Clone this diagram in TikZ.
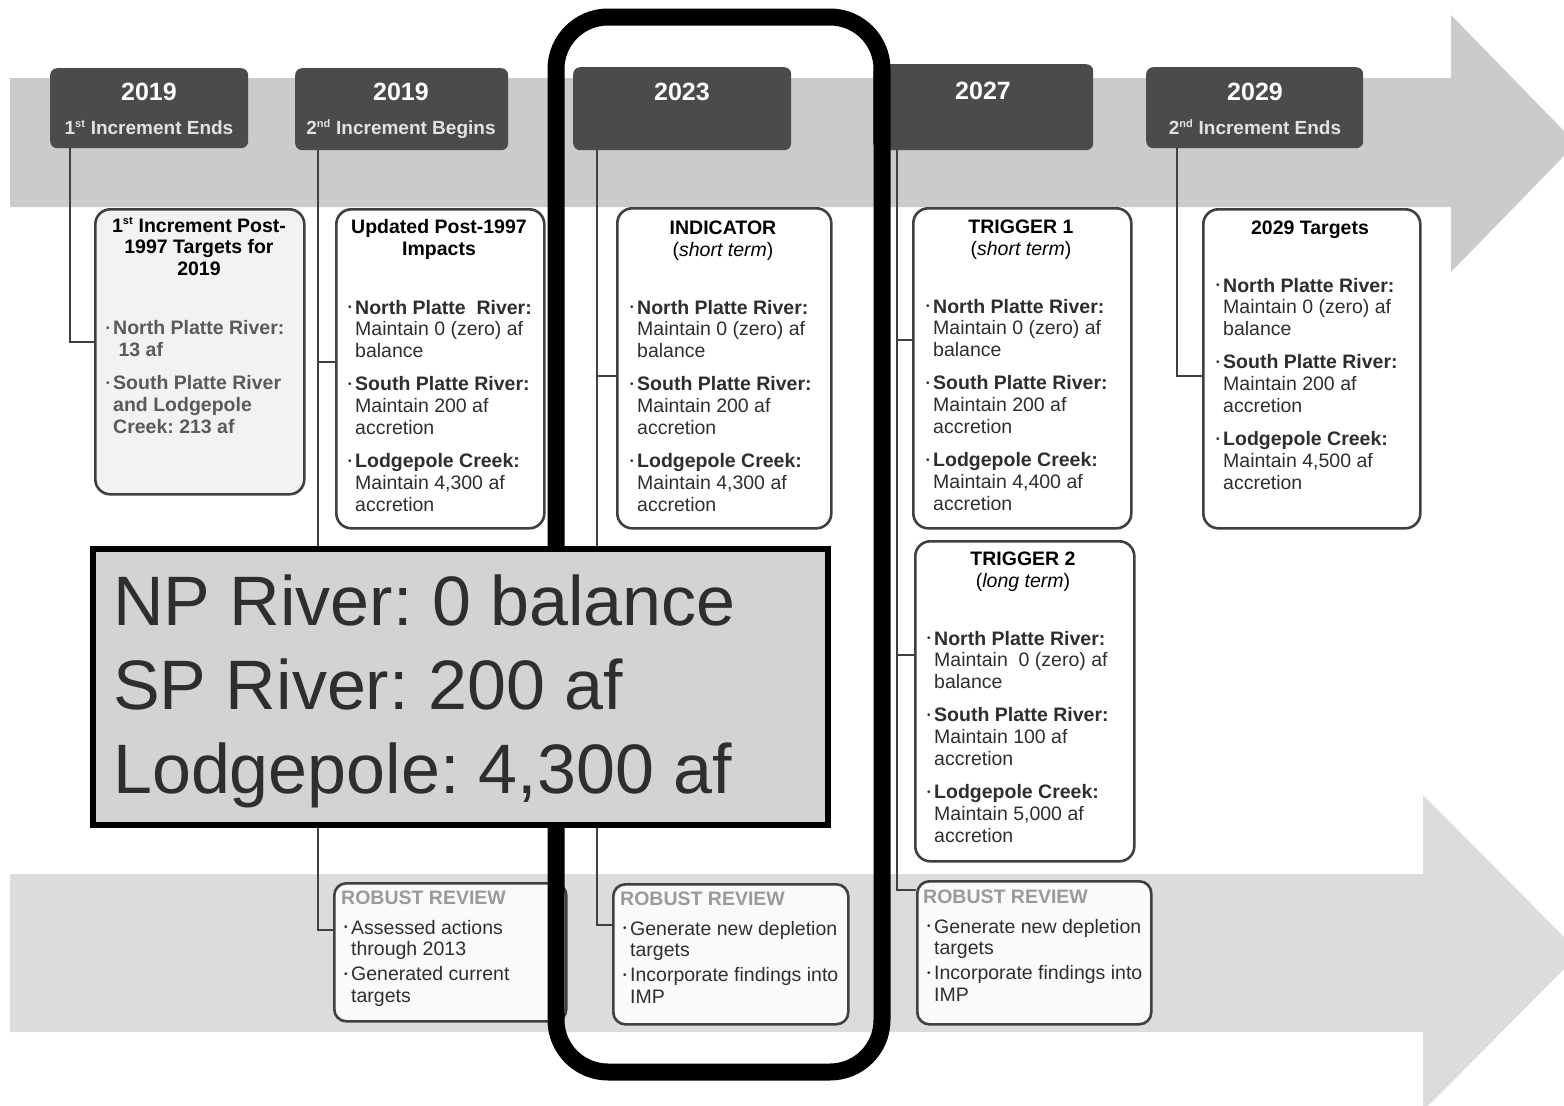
\documentclass[tikz,border=0pt]{standalone}
\usepackage{fontspec}
\setmainfont{Liberation Sans}
\usetikzlibrary{calc}
\frenchspacing
\definecolor{hdr}{HTML}{4B4B4B}
\definecolor{hdrsub}{HTML}{E2E2E2}
\definecolor{bandA}{HTML}{CBCBCB}
\definecolor{bandB}{HTML}{DCDCDC}
\definecolor{edge}{HTML}{404040}
\definecolor{txt}{HTML}{2E2E2E}
\definecolor{grytxt}{HTML}{5A5A5A}
\definecolor{rrtxt}{HTML}{9A9A9A}
\definecolor{bigfill}{HTML}{D3D3D3}
\definecolor{afill}{HTML}{F2F2F2}
\definecolor{rfill}{HTML}{FAFAFA}
\newcommand\bodyfont{\fontsize{19.5}{21.7}\selectfont}
\newcommand\bu{\makebox[7pt][l]{\raisebox{0.3ex}{\fontsize{10}{10}\selectfont\textbullet}}}
\newcommand\ii{\hspace*{7pt}}
\newcommand\sups[1]{\textsuperscript{\fontsize{11}{11}\selectfont #1}}
\tikzset{
  hdrbox/.style={fill=hdr, draw=none, rounded corners=7pt, anchor=north west, inner sep=0},
  cbox/.style={draw=edge, line width=2.6pt, fill=white, rounded corners=15pt, anchor=north west, inner sep=0},
  conn/.style={draw=edge, line width=2.6pt},
  yeartxt/.style={anchor=base, text=white, font=\fontsize{25}{25}\selectfont\bfseries, inner sep=0},
  subtxt/.style={anchor=base, text=hdrsub, font=\fontsize{19}{19}\selectfont\bfseries, inner sep=0},
  titletxt/.style={anchor=base, align=center, text=black, font=\fontsize{19.5}{21.5}\selectfont\bfseries, inner sep=0},
  bodytxt/.style={anchor=base west, align=left, text=txt, font=\bodyfont, inner sep=0},
  rrtitle/.style={anchor=base west, text=rrtxt, font=\fontsize{19.5}{21.5}\selectfont\bfseries, inner sep=0},
}
\begin{document}
\begin{tikzpicture}[x=1pt,y=-1pt]
\useasboundingbox (0,0) rectangle (1564,1106);
\fill[white] (0,0) rectangle (1564,1106);
\clip (0,0) rectangle (1564,1106);
% timeline arrows
\fill[bandA] (10,78) -- (1451,78) -- (1451,15) -- (1564,131) -- (1564,156) -- (1451,272) -- (1451,207) -- (10,207) -- cycle;
\fill[bandB] (10,874) -- (1423,874) -- (1423,795) -- (1564,937) -- (1564,969) -- (1423,1111) -- (1423,1032) -- (10,1032) -- cycle;

% trunk x positions
\coordinate (t1) at (70,0);
\coordinate (t2) at (318,0);
\coordinate (t3) at (597,0);
\coordinate (t4) at (897,0);
\coordinate (t5) at (1177,0);

% header boxes
\node[hdrbox, minimum width=198pt, minimum height=80pt] (H1) at (50,68) {};
\node[hdrbox, minimum width=213pt, minimum height=82pt] (H2) at (295,68) {};
\node[hdrbox, minimum width=218pt, minimum height=83pt] (H3) at (573,67) {};
\node[hdrbox, minimum width=220pt, minimum height=86pt] (H4) at (873,64) {};
\node[hdrbox, minimum width=217pt, minimum height=81pt] (H5) at (1146,67) {};

% branch points
\coordinate (bA) at (94,342);
\coordinate (bB) at (335,362);
\coordinate (bC) at (616,376);
\coordinate (bD) at (912,340);
\coordinate (bE) at (914,655);
\coordinate (bF) at (1202,376);
\coordinate (bR1) at (333,930);
\coordinate (bR2) at (612,925);
\coordinate (bR3) at (916,890);

% connectors
\draw[conn] (H1.south -| t1) |- (bA);
\draw[conn] (H2.south -| t2) |- (bR1);
\draw[conn] (bB) -- (bB -| t2);
\draw[conn] (H3.south -| t3) |- (bR2);
\draw[conn] (bC) -- (bC -| t3);
\draw[conn] (H4.south -| t4) |- (bR3);
\draw[conn] (bD) -- (bD -| t4);
\draw[conn] (bE) -- (bE -| t4);
\draw[conn] (H5.south -| t5) |- (bF);

% content boxes
\node[cbox, fill=afill, minimum width=209pt, minimum height=285pt] (A) at (94,208) {};
\node[cbox, minimum width=208pt, minimum height=319pt] (B) at (335,208) {};
\node[cbox, minimum width=214pt, minimum height=320pt] (C) at (616,207) {};
\node[cbox, minimum width=218pt, minimum height=320pt] (D) at (912,207) {};
\node[cbox, minimum width=219pt, minimum height=320pt] (E) at (914,540) {};
\node[cbox, minimum width=217pt, minimum height=319pt] (F) at (1202,208) {};
\node[cbox, fill=rfill, rounded corners=12pt, minimum width=232pt, minimum height=138pt] (R1) at (333,882) {};
\node[cbox, fill=rfill, rounded corners=12pt, minimum width=235pt, minimum height=140pt] (R2) at (612,883) {};
\node[cbox, fill=rfill, rounded corners=12pt, minimum width=234pt, minimum height=143pt] (R3) at (916,880) {};

% header texts
\node[yeartxt] (H1y) at (149,100) {2019};
\node[subtxt] (H1s) at (149,134) {1\sups{st} Increment Ends};
\node[yeartxt] (H2y) at (401,100) {2019};
\node[subtxt] (H2s) at (401,134) {2\sups{nd} Increment Begins};
\node[yeartxt] (H3y) at (682,100) {2023};
\node[yeartxt] (H4y) at (983,99) {2027};
\node[yeartxt] (H5y) at (1255,100) {2029};
\node[subtxt] (H5s) at (1255,134) {2\sups{nd} Increment Ends};

% (multi-line nodes are placed by the baseline of their last line)
% box A
\node[titletxt] (At) at (199,275) {1\sups{st} Increment Post-\\1997 Targets for\\2019};
\node[bodytxt, text=grytxt, font=\bodyfont\bfseries] (Ab) at (106,433) {\bu North Platte River:\\ \ii\ 13 af\\[11.5pt]
 \bu South Platte River\\ \ii and Lodgepole\\ \ii Creek: 213 af};
% box B
\node[titletxt] (Bt) at (439,255) {Updated Post-1997\\Impacts};
\node[bodytxt] (Bb) at (348,511) {\bu\textbf{North Platte\ \ River:}\\ \ii Maintain 0 (zero) af\\ \ii balance\\[11.7pt]
 \bu\textbf{South Platte River:}\\ \ii Maintain 200 af\\ \ii accretion\\[11.7pt]
 \bu\textbf{Lodgepole Creek:}\\ \ii Maintain 4,300 af\\ \ii accretion};
% box C
\node[titletxt] (Ct) at (723,256) {INDICATOR\\[0.5pt]\mdseries(\textit{short term})};
\node[bodytxt] (Cb) at (630,511) {\bu\textbf{North Platte River:}\\ \ii Maintain 0 (zero) af\\ \ii balance\\[11.7pt]
 \bu\textbf{South Platte River:}\\ \ii Maintain 200 af\\ \ii accretion\\[11.7pt]
 \bu\textbf{Lodgepole Creek:}\\ \ii Maintain 4,300 af\\ \ii accretion};
% box D
\node[titletxt] (Dt) at (1021,255) {TRIGGER 1\\[0.5pt]\mdseries(\textit{short term})};
\node[bodytxt] (Db) at (926,510) {\bu\textbf{North Platte River:}\\ \ii Maintain 0 (zero) af\\ \ii balance\\[11.7pt]
 \bu\textbf{South Platte River:}\\ \ii Maintain 200 af\\ \ii accretion\\[11.7pt]
 \bu\textbf{Lodgepole Creek:}\\ \ii Maintain 4,400 af\\ \ii accretion};
% box E
\node[titletxt] (Et) at (1023,587) {TRIGGER 2\\[0.5pt]\mdseries(\textit{long term})};
\node[bodytxt] (Eb) at (927,842) {\bu\textbf{North Platte River:}\\ \ii Maintain\ \ 0 (zero) af\\ \ii balance\\[11.7pt]
 \bu\textbf{South Platte River:}\\ \ii Maintain 100 af\\ \ii accretion\\[11.7pt]
 \bu\textbf{Lodgepole Creek:}\\ \ii Maintain 5,000 af\\ \ii accretion};
% box F
\node[titletxt] (Ft) at (1310,234) {2029 Targets};
\node[bodytxt] (Fb) at (1216,489) {\bu\textbf{North Platte River:}\\ \ii Maintain 0 (zero) af\\ \ii balance\\[11.7pt]
 \bu\textbf{South Platte River:}\\ \ii Maintain 200 af\\ \ii accretion\\[11.7pt]
 \bu\textbf{Lodgepole Creek:}\\ \ii Maintain 4,500 af\\ \ii accretion};

% robust review boxes
\node[rrtitle] (R1t) at (341,904) {ROBUST REVIEW};
\node[bodytxt] (R1b) at (344,1002) {\bu Assessed actions\\ \ii through 2013\\[2.9pt] \bu Generated current\\ \ii targets};
\node[rrtitle] (R2t) at (620,905) {ROBUST REVIEW};
\node[bodytxt] (R2b) at (623,1003) {\bu Generate new depletion\\ \ii targets\\[2.9pt] \bu Incorporate findings into\\ \ii IMP};
\node[rrtitle] (R3t) at (923,903) {ROBUST REVIEW};
\node[bodytxt] (R3b) at (927,1001) {\bu Generate new depletion\\ \ii targets\\[2.9pt] \bu Incorporate findings into\\ \ii IMP};

% highlight frame
\draw[black, line width=17pt, rounded corners=52pt] (556,17) rectangle (882,1072);

% big summary box
\node[draw=black, line width=6pt, fill=bigfill, anchor=north west, minimum width=735pt, minimum height=276pt, inner sep=0] (S) at (90,546) {};
\node[anchor=base west, align=left, inner sep=0, text=txt, font=\fontsize{70}{84}\selectfont] (St) at (113,793) {NP River: 0 balance\\SP River: 200 af\\Lodgepole: 4,300 af};
\end{tikzpicture}
\end{document}
